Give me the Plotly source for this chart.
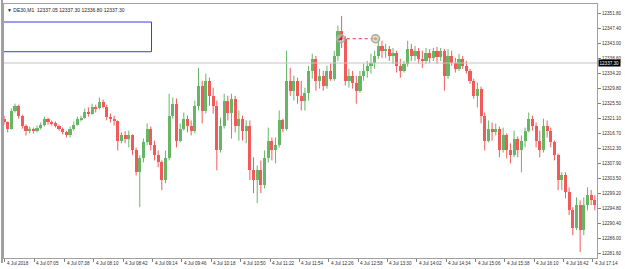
import plotly.graph_objects as go
import pandas as pd

# ---------------- data ----------------
header_text = "▼ DE30,M1  12337.05 12337.30 12336.80 12337.30"
bid_price = 12337.30
first_bar = "2018-07-04 06:32"
bar_minutes = 4

opens = [12321.0, 12319.9, 12318.1, 12323.4, 12324.8, 12321.9, 12319.0, 12317.5, 12318.1, 12317.3,
         12318.4, 12319.3, 12321.0, 12319.9, 12319.6, 12319.0, 12318.1, 12317.0, 12316.1, 12318.1,
         12319.3, 12320.8, 12321.3, 12323.1, 12322.5, 12324.5, 12324.0, 12326.0, 12324.5, 12321.6,
         12321.0, 12320.2, 12314.6, 12316.1, 12315.2, 12316.1, 12311.7, 12305.3, 12309.4, 12314.1,
         12318.1, 12313.2, 12310.3, 12308.2, 12303.0, 12309.4, 12321.9, 12325.4, 12314.6, 12318.1,
         12321.0, 12319.0, 12317.5, 12324.8, 12330.7, 12323.4, 12332.1, 12327.7, 12324.8, 12311.7,
         12319.0, 12326.3, 12322.8, 12326.9, 12319.0, 12321.0, 12317.5, 12319.0, 12305.9, 12303.0,
         12305.9, 12301.5, 12309.4, 12314.6, 12311.7, 12313.2, 12320.5, 12318.1, 12332.1, 12329.2,
         12332.1, 12327.7, 12326.3, 12328.6, 12335.0, 12338.5, 12332.1, 12333.6, 12330.7, 12335.0,
         12332.7, 12339.4, 12346.7, 12344.4, 12332.1, 12333.6, 12331.5, 12329.2, 12333.6, 12335.0,
         12336.5, 12337.4, 12339.4, 12342.3, 12340.9, 12341.4, 12339.4, 12340.3, 12336.5, 12335.0,
         12337.1, 12341.4, 12339.4, 12340.9, 12338.5, 12337.9, 12340.3, 12338.8, 12340.9, 12339.1,
         12340.9, 12333.6, 12339.4, 12337.4, 12335.6, 12338.5, 12336.5, 12335.0, 12332.1, 12327.7,
         12329.8, 12321.9, 12314.6, 12318.1, 12317.0, 12318.1, 12311.7, 12316.1, 12311.7, 12310.3,
         12315.2, 12311.7, 12314.6, 12317.5, 12321.0, 12319.0, 12314.6, 12311.7, 12319.0, 12317.5,
         12314.1, 12310.3, 12303.0, 12304.4, 12299.5, 12294.2, 12289.0, 12295.7, 12288.4, 12295.7,
         12298.6, 12297.1]
closes = [12319.9, 12318.1, 12323.4, 12324.8, 12321.9, 12319.0, 12317.5, 12318.1, 12317.3, 12318.4,
          12319.3, 12321.0, 12319.9, 12319.6, 12319.0, 12318.1, 12317.0, 12316.1, 12318.1, 12319.3,
          12320.8, 12321.3, 12323.1, 12322.5, 12324.5, 12324.0, 12326.0, 12324.5, 12321.6, 12321.0,
          12320.2, 12314.6, 12316.1, 12315.2, 12316.1, 12311.7, 12305.3, 12309.4, 12314.1, 12318.1,
          12313.2, 12310.3, 12308.2, 12303.0, 12309.4, 12321.9, 12325.4, 12314.6, 12318.1, 12321.0,
          12319.0, 12317.5, 12324.8, 12330.7, 12323.4, 12332.1, 12327.7, 12324.8, 12311.7, 12319.0,
          12326.3, 12322.8, 12326.9, 12319.0, 12321.0, 12317.5, 12319.0, 12305.9, 12303.0, 12305.9,
          12301.5, 12309.4, 12314.6, 12311.7, 12313.2, 12320.5, 12318.1, 12332.1, 12329.2, 12332.1,
          12327.7, 12326.3, 12328.6, 12335.0, 12338.5, 12332.1, 12333.6, 12330.7, 12335.0, 12332.7,
          12339.4, 12346.7, 12344.4, 12332.1, 12333.6, 12331.5, 12329.2, 12333.6, 12335.0, 12336.5,
          12337.4, 12339.4, 12342.3, 12340.9, 12341.4, 12339.4, 12340.3, 12336.5, 12335.0, 12337.1,
          12341.4, 12339.4, 12340.9, 12338.5, 12337.9, 12340.3, 12338.8, 12340.9, 12339.1, 12340.9,
          12333.6, 12339.4, 12337.4, 12335.6, 12338.5, 12336.5, 12335.0, 12332.1, 12327.7, 12329.8,
          12321.9, 12314.6, 12318.1, 12317.0, 12318.1, 12311.7, 12316.1, 12311.7, 12310.3, 12315.2,
          12311.7, 12314.6, 12317.5, 12321.0, 12319.0, 12314.6, 12311.7, 12319.0, 12317.5, 12314.1,
          12310.3, 12303.0, 12304.4, 12299.5, 12294.2, 12289.0, 12295.7, 12288.4, 12295.7, 12298.6,
          12297.1, 12295.7]
highs = [12321.9, 12320.2, 12324.0, 12325.4, 12325.1, 12322.2, 12319.3, 12318.7, 12318.4, 12319.0,
         12319.9, 12321.6, 12321.3, 12320.5, 12320.2, 12319.3, 12318.4, 12317.5, 12318.7, 12320.2,
         12321.6, 12321.9, 12324.0, 12324.3, 12325.4, 12325.1, 12327.2, 12326.6, 12325.1, 12322.5,
         12321.9, 12320.5, 12317.0, 12317.3, 12317.5, 12316.4, 12312.6, 12310.3, 12315.2, 12319.6,
         12318.7, 12314.6, 12311.7, 12308.8, 12311.7, 12328.3, 12327.2, 12326.9, 12319.6, 12322.8,
         12321.9, 12320.5, 12326.3, 12335.9, 12332.1, 12334.2, 12333.0, 12330.1, 12326.3, 12321.3,
         12328.3, 12327.7, 12328.3, 12327.7, 12323.4, 12321.9, 12320.5, 12320.5, 12309.7, 12307.3,
         12308.8, 12311.7, 12318.4, 12315.5, 12315.5, 12323.4, 12321.0, 12340.9, 12335.9, 12333.6,
         12333.0, 12332.1, 12330.1, 12336.5, 12340.0, 12339.4, 12335.6, 12335.0, 12336.5, 12337.1,
         12340.9, 12348.2, 12351.1, 12345.2, 12335.6, 12335.0, 12333.6, 12335.0, 12337.1, 12337.9,
         12340.0, 12340.9, 12344.4, 12343.8, 12342.9, 12342.3, 12341.7, 12340.9, 12338.5, 12337.9,
         12343.8, 12342.9, 12342.3, 12341.7, 12340.9, 12341.7, 12341.4, 12341.7, 12342.0, 12341.7,
         12341.4, 12341.4, 12340.9, 12338.8, 12340.0, 12339.4, 12337.9, 12335.6, 12332.7, 12331.5,
         12330.4, 12322.8, 12320.5, 12319.9, 12319.6, 12318.7, 12318.4, 12316.7, 12313.8, 12317.5,
         12315.8, 12316.1, 12318.4, 12322.8, 12321.9, 12319.9, 12317.5, 12321.0, 12320.5, 12318.4,
         12314.6, 12310.8, 12305.3, 12305.3, 12300.9, 12295.1, 12298.0, 12297.1, 12298.0, 12300.9,
         12300.1, 12298.6]
lows = [12319.3, 12317.0, 12317.8, 12322.8, 12321.0, 12318.1, 12316.1, 12316.7, 12316.7, 12317.0,
        12317.8, 12318.7, 12319.3, 12319.0, 12318.4, 12317.5, 12316.4, 12315.5, 12315.5, 12317.5,
        12319.0, 12320.2, 12321.0, 12321.6, 12322.2, 12322.8, 12323.7, 12324.0, 12320.5, 12319.9,
        12319.0, 12311.7, 12313.8, 12313.8, 12312.6, 12310.3, 12304.4, 12295.1, 12308.2, 12313.2,
        12311.7, 12308.8, 12306.8, 12300.1, 12302.1, 12308.8, 12321.0, 12312.6, 12314.1, 12317.5,
        12317.0, 12316.1, 12316.7, 12323.4, 12319.6, 12322.5, 12324.8, 12322.5, 12305.9, 12311.1,
        12318.1, 12320.5, 12315.2, 12317.0, 12314.6, 12314.6, 12313.8, 12303.0, 12299.2, 12296.3,
        12299.2, 12300.6, 12308.2, 12308.8, 12307.9, 12312.6, 12317.0, 12317.5, 12327.7, 12326.3,
        12325.4, 12323.4, 12323.4, 12326.3, 12332.7, 12329.2, 12329.8, 12329.2, 12329.8, 12332.1,
        12332.1, 12337.9, 12341.7, 12330.7, 12330.1, 12329.8, 12325.4, 12328.6, 12332.1, 12333.0,
        12334.2, 12335.6, 12338.5, 12338.8, 12338.8, 12337.9, 12337.1, 12334.5, 12333.0, 12334.5,
        12336.2, 12337.9, 12337.9, 12337.1, 12335.9, 12337.1, 12337.4, 12337.9, 12337.1, 12337.9,
        12329.2, 12332.7, 12336.5, 12334.5, 12335.0, 12335.6, 12334.2, 12331.2, 12326.9, 12324.3,
        12319.6, 12311.7, 12314.1, 12314.6, 12316.1, 12309.7, 12311.1, 12309.4, 12307.9, 12309.7,
        12309.7, 12305.3, 12312.6, 12317.0, 12317.5, 12312.6, 12309.7, 12311.1, 12315.5, 12312.6,
        12308.8, 12300.1, 12300.1, 12297.7, 12292.8, 12286.9, 12288.4, 12282.0, 12286.9, 12294.2,
        12295.7, 12294.2]

time_tick_at = ["06:33", "07:05", "07:38", "08:10", "08:42", "09:14", "09:46", "10:18", "10:50",
                "11:22", "11:54", "12:26", "12:58", "13:30", "14:02", "14:34", "15:06", "15:38",
                "16:10", "16:42", "17:14"]
time_tick_text = ["4 Jul 2018"] + ["4 Jul " + t for t in time_tick_at[1:]]
price_ticks = [12351.80, 12347.40, 12343.00, 12338.60, 12334.20, 12329.80, 12325.50, 12321.10,
               12316.70, 12312.30, 12307.90, 12303.50, 12299.20, 12294.80, 12290.40, 12286.00,
               12281.60]

# trade objects drawn on the chart
trade_open_time = "2018-07-04 12:39"
trade_close_time = "2018-07-04 13:17"
trade_price = 12344.4
# rectangle object
rect_t0, rect_t1 = "2018-07-04 06:30:55", "2018-07-04 09:12:48"
rect_p0, rect_p1 = 12340.6, 12349.3

# ---------------- build ----------------
times = pd.date_range(first_bar, periods=len(closes), freq=f"{bar_minutes}min")
GREEN = "#66b666"
RED = "#f25a5a"

fig = go.Figure()
for up, col in [(True, GREEN), (False, RED)]:
    idx = [i for i in range(len(closes)) if (closes[i] >= opens[i]) == up]
    wx, wy = [], []
    for i in idx:
        wx += [times[i], times[i], None]
        wy += [lows[i], highs[i], None]
    fig.add_trace(go.Scatter(x=wx, y=wy, mode="lines", line=dict(color=col, width=1),
                             hoverinfo="skip", showlegend=False))
    fig.add_trace(go.Bar(x=[times[i] for i in idx],
                         base=[min(opens[i], closes[i]) for i in idx],
                         y=[max(abs(closes[i] - opens[i]), 0.15) for i in idx],
                         width=bar_minutes * 60000 * 0.85,
                         marker=dict(color=col, line=dict(width=0)),
                         showlegend=False))

# trade line + markers
fig.add_trace(go.Scatter(x=[trade_open_time, trade_close_time], y=[trade_price, trade_price],
                         mode="lines", line=dict(color="#e03030", width=1, dash="dot"),
                         showlegend=False))
fig.add_trace(go.Scatter(x=[trade_open_time, trade_close_time], y=[trade_price, trade_price],
                         mode="markers",
                         marker=dict(symbol="circle", size=8, color="rgba(200,200,200,0.6)",
                                     line=dict(color="#a8a8a8", width=1.5)),
                         showlegend=False))
fig.add_trace(go.Scatter(x=[trade_open_time], y=[trade_price], mode="markers",
                         marker=dict(symbol="triangle-se", size=5, color="#e02020"),
                         showlegend=False))
fig.add_trace(go.Scatter(x=[trade_close_time], y=[trade_price], mode="markers",
                         marker=dict(symbol="circle", size=3, color="#f0a020"),
                         showlegend=False))

tick_dt = [pd.Timestamp("2018-07-04 " + t) for t in time_tick_at]
x_start = pd.Timestamp("2018-07-04 06:32:00")
x_end = x_start + pd.Timedelta(seconds=599 / 0.9267 * 60)

fig.update_layout(
    width=625, height=269,
    margin=dict(l=3, r=23, t=3, b=11),
    paper_bgcolor="white", plot_bgcolor="white",
    barmode="overlay", bargap=0,
    font=dict(family="Liberation Sans", size=5, color="#202020"),
    xaxis=dict(type="date", range=[x_start, x_end], showgrid=False, zeroline=False,
               tickvals=tick_dt, ticktext=[""] * len(tick_dt), ticks="outside", ticklen=3,
               tickcolor="#808080", showline=True, linecolor="#a0a0a0", mirror=True,
               fixedrange=True),
    yaxis=dict(side="right", range=[12280.23, 12354.57], showgrid=False, zeroline=False,
               tickvals=price_ticks, ticktext=[f"{v:.2f}" for v in price_ticks],
               ticks="outside", ticklen=3, tickcolor="#808080",
               tickfont=dict(size=4.6, color="#303030"),
               showline=True, linecolor="#a0a0a0", mirror=True),
)

# time labels left-aligned after tick
for t, txt in zip(tick_dt, time_tick_text):
    fig.add_annotation(x=t, y=0, xref="x", yref="paper", yanchor="top", xanchor="left",
                       yshift=-1, xshift=0, text=txt, showarrow=False,
                       font=dict(size=4.6, color="#303030"))

# bid price line and tag
fig.add_shape(type="line", xref="paper", yref="y", x0=0, x1=1, y0=bid_price, y1=bid_price,
              line=dict(color="#c4c4c4", width=1))
fig.add_annotation(x=1, xref="paper", y=bid_price, yref="y", xanchor="left", text=f"{bid_price:.2f}",
                   showarrow=False, bgcolor="black", font=dict(size=4.6, color="white"),
                   borderpad=0.5, xshift=1)
# blue rectangle object
fig.add_shape(type="rect", xref="x", yref="y", x0=rect_t0, x1=rect_t1, y0=rect_p0, y1=rect_p1,
              line=dict(color="#3a3ae0", width=1))
# left window border
fig.add_shape(type="line", xref="paper", yref="paper", x0=-2 / 599, x1=-2 / 599, y0=-0.02, y1=1.02,
              line=dict(color="#a0a0a0", width=2))
# header
fig.add_annotation(x=0, xref="paper", y=1, yref="paper", xanchor="left", yanchor="top",
                   text=header_text, showarrow=False, xshift=1, yshift=-1,
                   font=dict(size=5, color="#202020"))

fig.write_html("out.html")
